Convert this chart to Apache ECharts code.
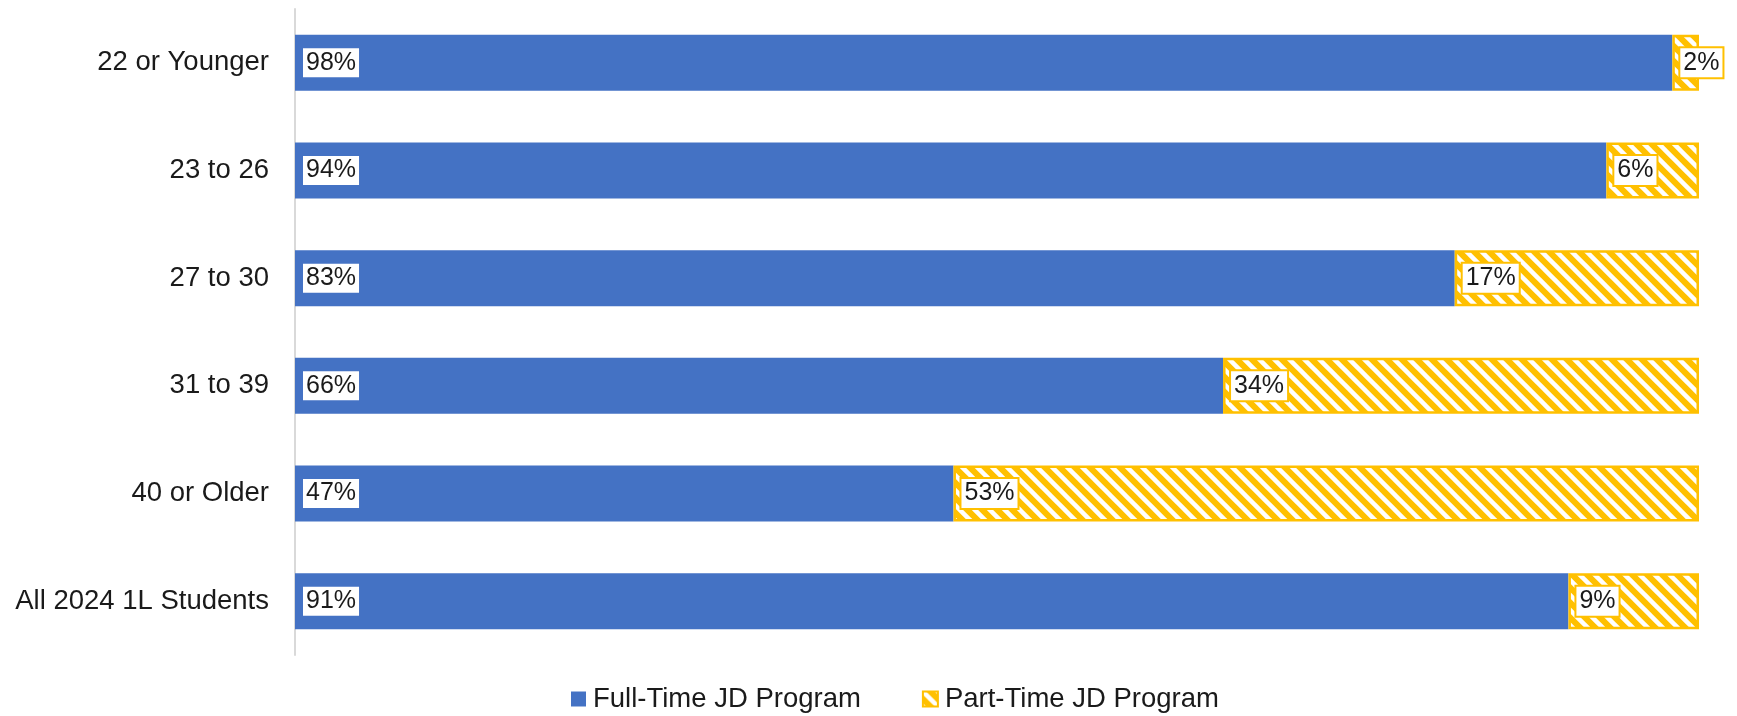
<!DOCTYPE html>
<html><head><meta charset="utf-8">
<script src="https://cdn.jsdelivr.net/npm/echarts@6/dist/echarts.min.js"></script>
<style>html,body{margin:0;padding:0;background:#fff}#c{width:1737px;height:716px}</style>
</head><body><div id="c"></div>
<script>
const categories = ["22 or Younger","23 to 26","27 to 30","31 to 39","40 or Older","All 2024 1L Students"];
// bar lengths
const fullTime = [98.1,93.4,82.6,66.1,46.9,90.7];
const partTime = [1.9,6.6,17.4,33.9,53.1,9.3];
// printed labels
const fullLabels = ["98%","94%","83%","66%","47%","91%"];
const partLabels = ["2%","6%","17%","34%","53%","9%"];
const seriesNames = ["Full-Time JD Program","Part-Time JD Program"];

function hatch(){
  const n = 15, c = document.createElement('canvas');
  c.width = n; c.height = n;
  const g = c.getContext('2d');
  g.fillStyle = '#FFC000'; g.fillRect(0,0,n,n);
  g.strokeStyle = '#ffffff'; g.lineWidth = 4.5;
  for (let k=-1;k<=1;k++){ g.beginPath(); g.moveTo(k*n - n, -n); g.lineTo(k*n + 2*n, 2*n); g.stroke(); }
  return c;
}
const font = 'Liberation Sans, Arial, sans-serif';
function labelCfg(texts, border){
  return {show:true, position:'insideLeft', distance:8,
    formatter:p => texts[p.dataIndex], fontSize:25, fontFamily:font,
    color:'#1a1a1a', backgroundColor:'#ffffff', padding:[3,3,1,3],
    borderColor: border ? '#FFC000' : 'transparent', borderWidth: border ? 2 : 0};
}
const chart = echarts.init(document.getElementById('c'));
chart.setOption({
  animation:false,
  grid:{left:295, right:38, top:9, bottom:61, containLabel:false},
  xAxis:{type:'value', min:0, max:100, show:false},
  yAxis:{type:'category', data:categories, inverse:true,
    axisLine:{show:true, lineStyle:{color:'#d9d9d9', width:2}},
    axisTick:{show:false},
    axisLabel:{fontSize:27.5, fontFamily:font, color:'#1a1a1a', margin:26}},
  legend:{left:566, top:680, icon:'rect', itemWidth:15, itemHeight:15, itemGap:61,
    textStyle:{fontSize:27.5, fontFamily:font, color:'#1a1a1a', padding:[0,0,0,2]},
    data:seriesNames},
  series:[
    {name:seriesNames[0], type:'bar', stack:'a', data:fullTime, barWidth:56,
      itemStyle:{color:'#4472C4'}, label:labelCfg(fullLabels,false)},
    {name:seriesNames[1], type:'bar', stack:'a', data:partTime, barWidth:56,
      itemStyle:{color:{image:hatch(), repeat:'repeat'}, borderColor:'#FFC000', borderWidth:2.5},
      label:labelCfg(partLabels,true)}
  ]
});
</script></body></html>
